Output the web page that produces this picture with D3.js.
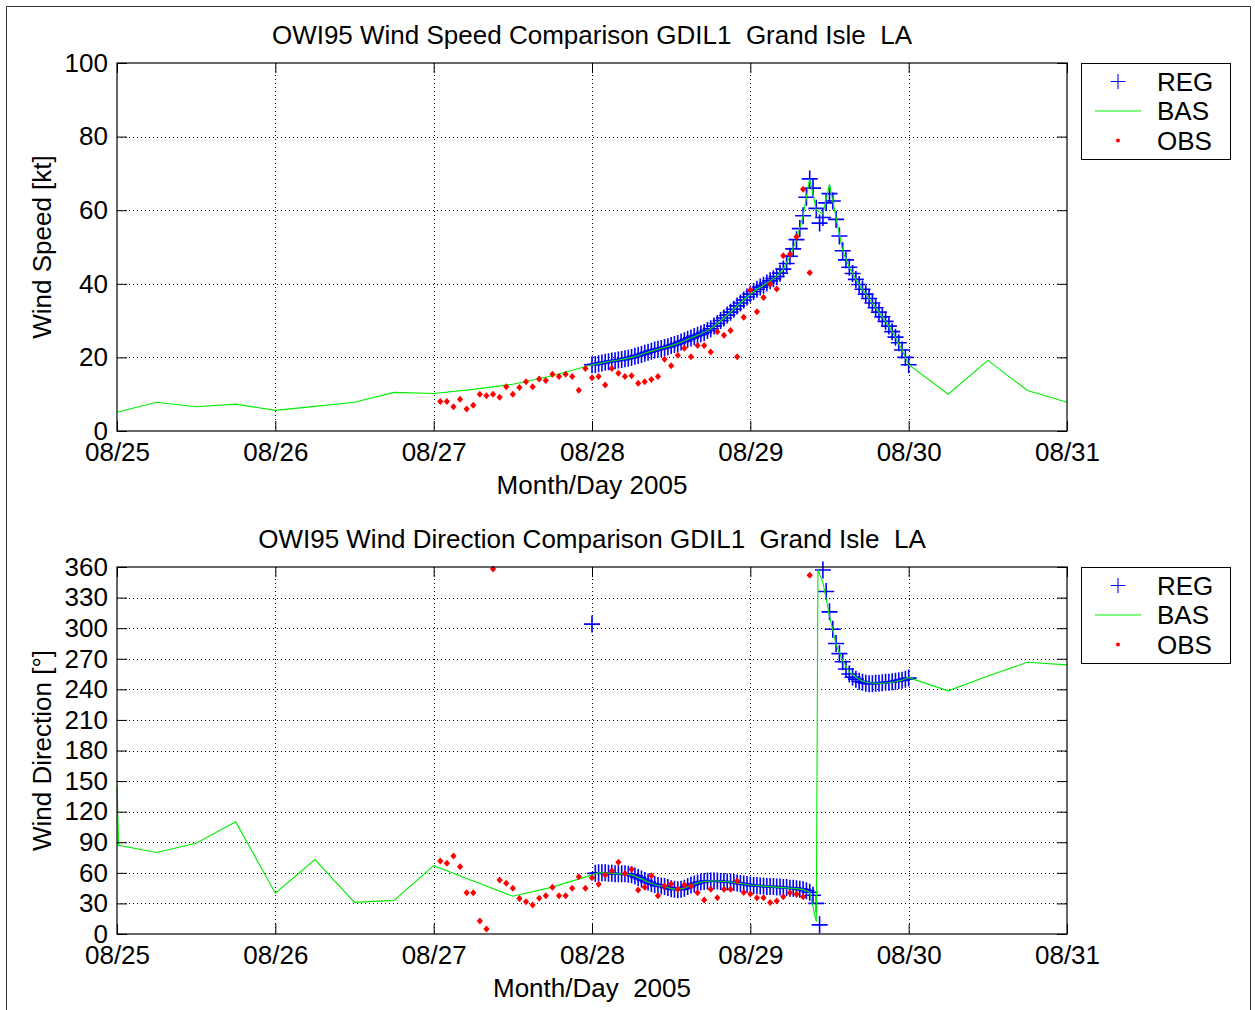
<!DOCTYPE html>
<html><head><meta charset="utf-8">
<script src="https://cdn.jsdelivr.net/npm/d3@7"></script>
<style>
html,body{margin:0;padding:0;background:#fff;}
svg text{font-family:"Liberation Sans",Arial,Helvetica,sans-serif;fill:#000;white-space:pre;}
</style></head>
<body>
<svg id="chart" width="1255" height="1010"></svg>
<script>
// ---------------- DATA ----------------
const xTickLabels = ["08/25","08/26","08/27","08/28","08/29","08/30","08/31"];
const speedTicks = [0,20,40,60,80,100];
const dirTicks = [0,30,60,90,120,150,180,210,240,270,300,330,360];
const seriesNames = ["REG","BAS","OBS"];

// hours since 08/25 00:00 UTC
const basHours = [0,6,12,18,24,30,36,42,48,54,60,66,72,
  73,74,75,76,77,78,79,80,81,82,83,84,85,86,87,88,89,90,91,92,93,94,95,96,
  97,98,99,100,101,102,103,104,105,106,107,108,109,110,111,112,113,114,115,116,117,118,119,120,
  126,132,138,144];
const basSpeed = [5.1,7.8,6.6,7.3,5.6,6.7,7.8,10.5,10.2,11.3,12.7,15.0,18.0,
  18.3,18.7,19.0,19.3,19.6,20.0,20.5,21.1,21.7,22.2,22.7,23.2,23.8,24.5,25.3,26.0,26.8,27.8,29.2,30.7,32.3,34.0,35.6,37.2,
  38.5,39.6,40.8,42.0,44.0,47.5,52.0,58.5,68.5,60.0,59.0,67.0,58.0,49.0,44.5,41.2,38.5,36.0,33.5,31.0,28.5,25.5,22.0,18.0,
  10.0,19.2,11.0,7.8];

const basDirHours = [0,0.25,6,12,18,24,30,36,42,48,54,60,66,72,
  73,74,75,76,77,78,79,80,81,82,83,84,85,86,87,88,89,90,91,92,93,94,95,96,
  97,98,99,100,101,102,103,104,105,106,106.25,107,108,109,110,111,112,113,114,115,116,117,118,119,120,
  126,132,138,144];
const basDir = [146,87,80,89,110,40,73,31,33,67,52,37,46,58,
  60,60,59.5,59,59,58,55.5,52.5,49.5,47.5,46.5,44.5,43.5,45,48,50,51.5,52,52,51.5,51,50,49,48,
  47.5,47,46.5,46,45.5,45,44.5,43.5,41,12,357,345,312,284,268,257,252,248,246.5,246,246,246.5,247.5,249,251.5,
  238.5,253,266.5,264];

// REG: every 30 minutes from 08/28 00:00 to 08/30 00:00
const regStartHour = 72, regStepHours = 0.5;
const regSpeed = [18.0,18.1,18.3,18.5,18.7,18.8,19.0,19.1,19.3,19.4,19.6,19.8,20.0,20.3,20.5,20.8,21.1,21.4,21.7,22.0,
  22.2,22.4,22.7,22.9,23.2,23.5,23.8,24.2,24.5,24.9,25.3,25.7,26.0,26.4,26.8,27.3,27.8,28.5,29.2,30.0,
  30.7,31.5,32.3,33.1,34.0,34.8,35.6,36.4,37.2,37.9,38.5,39.1,39.6,40.2,40.8,41.4,42.0,42.9,44.0,45.5,
  47.5,49.5,52.0,55.0,58.5,63.5,68.5,66.0,60.5,56.5,58.0,62.0,64.5,62.5,57.5,53.0,49.0,46.5,44.5,42.8,
  41.2,39.8,38.5,37.2,36.0,34.8,33.5,32.3,31.0,29.8,28.5,27.0,25.5,24.0,22.0,20.0,18.0];
const regDir = [304,59.5,60,60,60,59.5,59.5,59,59,59,59,58.5,58,57,55.5,54,52.5,51,49.5,48.5,
  47.5,47,46.5,45.5,44.5,44,43.5,44,45,46.5,48,49,50,51,51.5,52,52,52,52,51.5,
  51.5,51,51,50.5,50,49.5,49,48.5,48,47.5,47.5,47,47,46.5,46.5,46.5,46,46,45.5,45.5,
  45,45,44.5,44,43.5,42.5,41,38,30,9,357,336,316,299,285,275,267,260,255,252,
  250,248,247,246,245.5,245.5,246,246,246.5,247,247,247.5,248,248.5,249,250,251];

// OBS: hourly from 08/27 01:00
const obsStartHour = 49;
const obsSpeed = [8.0,8.0,6.6,8.6,6.0,7.0,10.0,9.6,10.0,9.2,12.0,10.0,11.8,13.4,12.0,14.1,13.7,15.4,14.8,15.4,
  14.8,11.1,17.0,14.5,14.8,12.5,17.0,15.7,14.8,15.0,13.0,13.4,14.0,14.8,19.5,17.7,20.6,22.5,20.2,23.2,
  23.2,21.5,27.0,26.0,27.3,20.2,30.9,38.3,32.4,36.3,39.9,38.6,47.6,48.0,52.8,65.7,43.0];
const obsDir = [71.6,69.3,76.5,66,40.5,40.5,12.8,4.9,358,53,49.7,44.8,34.9,31.7,28.4,35,37.6,45.8,37.6,37.6,
  44.8,56.2,44.8,55.2,48.7,57.9,62.1,70.3,59.4,63.5,43.2,45.8,57.2,37.6,47.1,49,43.8,48,47.1,40.5,
  33.4,43.8,35.6,43.8,43.8,52,40.8,39.2,35.6,35.6,31,32.4,36.6,40.5,38.9,36.6,352];

// ---------------- DRAWING ----------------
const svg = d3.select("#chart");
const base = Date.UTC(2005,7,25);
const tH = h => new Date(base + h*3600000);
const parseTick = d3.utcParse("%Y/%m/%d");
const xTickDates = xTickLabels.map(l => parseTick("2005/" + l));
const FS = 26;

// figure frame
svg.append("path").attr("d","M6.5,1012V6.5H1250.5V1012")
  .attr("fill","none").attr("stroke","#333").attr("stroke-width",1);

const L = 117, R = 1067;
const x = d3.scaleUtc().domain([xTickDates[0], xTickDates[xTickDates.length-1]]).range([L, R]);

function panel(cfg){
  const y = d3.scaleLinear().domain(cfg.ydomain).range([cfg.bottom, cfg.top]);
  const g = svg.append("g");
  // grid
  const grid = g.append("g").attr("stroke","#000").attr("stroke-width",1)
    .attr("stroke-dasharray","1,3").attr("fill","none");
  xTickDates.slice(1,-1).forEach(d => {
    grid.append("line").attr("x1",Math.round(x(d))+0.5).attr("x2",Math.round(x(d))+0.5)
      .attr("y1",cfg.top).attr("y2",cfg.bottom);
  });
  cfg.yticks.slice(1,-1).forEach(v => {
    grid.append("line").attr("y1",Math.round(y(v))+0.5).attr("y2",Math.round(y(v))+0.5)
      .attr("x1",L).attr("x2",R);
  });
  // REG crosses
  const regPts = cfg.reg.map((v,i) => [tH(regStartHour + i*regStepHours), v]);
  g.append("g").selectAll("path").data(regPts).join("path")
    .attr("transform", d => `translate(${x(d[0])},${y(d[1])})`)
    .attr("d","M-8,0H8M0,-8.5V8.5")
    .attr("stroke","#0000ff").attr("stroke-width",1.6).attr("fill","none");
  // BAS line
  const basPts = cfg.basH.map((h,i) => [tH(h), cfg.bas[i]]);
  g.append("path").datum(basPts)
    .attr("d", d3.line().x(d => x(d[0])).y(d => y(d[1])))
    .attr("fill","none").attr("stroke","#00ee00").attr("stroke-width",1.1);
  // OBS dots
  const obsPts = cfg.obs.map((v,i) => [tH(obsStartHour + i), v]);
  g.append("g").selectAll("path").data(obsPts).join("path")
    .attr("transform", d => `translate(${x(d[0])},${y(d[1])})`)
    .attr("d","M0,-3.5L3.1,0L0,3.5L-3.1,0Z")
    .attr("fill","#ff0000");
  // axes (ticks inward, mirrored)
  const ax = g.append("g");
  ax.append("g").attr("transform",`translate(0,${cfg.bottom})`)
    .call(d3.axisBottom(x).tickValues(xTickDates).tickFormat((d,i)=>xTickLabels[i])
      .tickSizeInner(-10).tickSizeOuter(0).tickPadding(12));
  ax.append("g").attr("transform",`translate(0,${cfg.top})`)
    .call(d3.axisTop(x).tickValues(xTickDates).tickFormat("").tickSizeInner(-10).tickSizeOuter(0));
  ax.append("g").attr("transform",`translate(${L},0)`)
    .call(d3.axisLeft(y).tickValues(cfg.yticks).tickFormat(d3.format("d"))
      .tickSizeInner(-10).tickSizeOuter(0).tickPadding(9));
  ax.append("g").attr("transform",`translate(${R},0)`)
    .call(d3.axisRight(y).tickValues(cfg.yticks).tickFormat("").tickSizeInner(-10).tickSizeOuter(0));
  ax.selectAll(".domain").remove();
  ax.selectAll("line").attr("stroke","#000");
  ax.selectAll("text").attr("font-size",FS).attr("font-family",null);
  g.append("rect").attr("x",L).attr("y",cfg.top).attr("width",R-L).attr("height",cfg.bottom-cfg.top)
    .attr("fill","none").attr("stroke","#000").attr("stroke-width",1.2);
  // title & labels
  g.append("text").attr("x",(L+R)/2).attr("y",cfg.top-19).attr("text-anchor","middle")
    .attr("font-size",FS).attr("xml:space","preserve").text(cfg.title);
  g.append("text").attr("x",(L+R)/2).attr("y",cfg.bottom+63).attr("text-anchor","middle")
    .attr("font-size",FS).attr("xml:space","preserve").text(cfg.xlabel);
  g.append("text").attr("transform",`translate(51,${(cfg.top+cfg.bottom)/2}) rotate(-90)`)
    .attr("text-anchor","middle").attr("font-size",FS).text(cfg.ylabel);
  // legend
  const lx = 1081, ly = cfg.top;
  const lg = g.append("g");
  lg.append("rect").attr("x",lx+0.5).attr("y",ly+0.5).attr("width",149).attr("height",96)
    .attr("fill","#fff").attr("stroke","#000").attr("stroke-width",1);
  const rows = [ly+18.5, ly+48, ly+77.5];
  lg.append("path").attr("d",`M${lx+37-7.5},${rows[0]}H${lx+37+7.5}M${lx+37},${rows[0]-7.5}V${rows[0]+7.5}`)
    .attr("stroke","#0000ff").attr("stroke-width",1.1);
  lg.append("line").attr("x1",lx+14).attr("x2",lx+60).attr("y1",rows[1]).attr("y2",rows[1])
    .attr("stroke","#00ee00").attr("stroke-width",1.1);
  lg.append("circle").attr("cx",lx+37).attr("cy",rows[2]).attr("r",2).attr("fill","#ff0000");
  seriesNames.forEach((n,i) => {
    lg.append("text").attr("x",lx+76).attr("y",rows[i]+9).attr("font-size",FS).text(n);
  });
}

panel({top:63, bottom:431, ydomain:[0,100], yticks:speedTicks,
  reg:regSpeed, basH:basHours, bas:basSpeed, obs:obsSpeed,
  title:"OWI95 Wind Speed Comparison GDIL1  Grand Isle  LA",
  xlabel:"Month/Day 2005", ylabel:"Wind Speed [kt]"});
panel({top:567, bottom:934, ydomain:[0,360], yticks:dirTicks,
  reg:regDir, basH:basDirHours, bas:basDir, obs:obsDir,
  title:"OWI95 Wind Direction Comparison GDIL1  Grand Isle  LA",
  xlabel:"Month/Day  2005", ylabel:"Wind Direction [°]"});
</script>
</body></html>
